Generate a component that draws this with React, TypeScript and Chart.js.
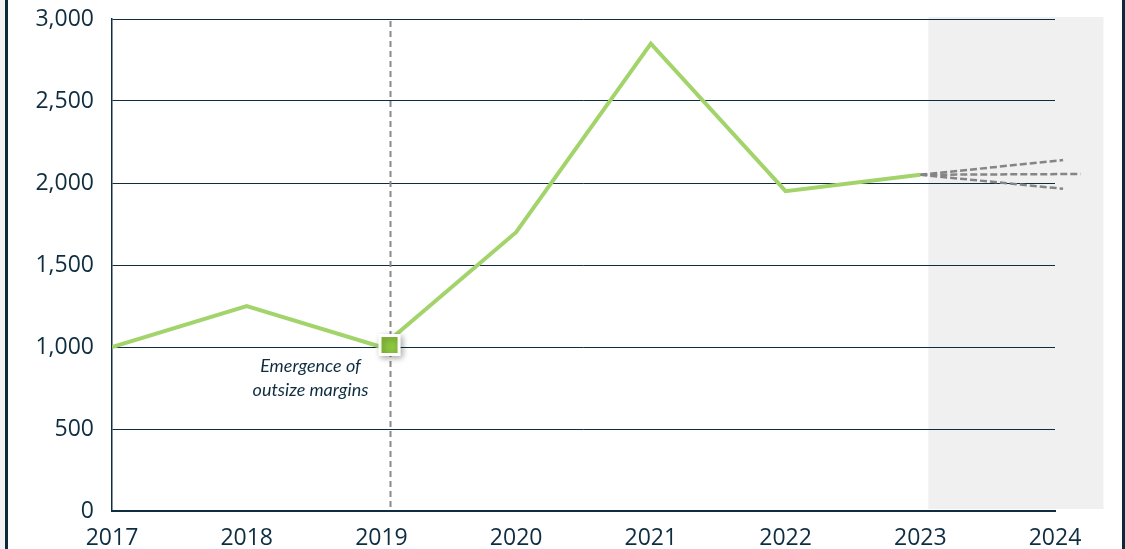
import React, { useEffect, useRef } from "react";
import { Chart, registerables } from "chart.js";

Chart.register(...registerables);

const years = [2017, 2018, 2019, 2020, 2021, 2022, 2023];
const values = [1000, 1250, 1000, 1700, 2850, 1950, 2050];
const projectionUpper = [{ x: 2023, y: 2050 }, { x: 2024.06, y: 2140 }];
const projectionMid = [{ x: 2023, y: 2050 }, { x: 2024.19, y: 2055 }];
const projectionLower = [{ x: 2023, y: 2050 }, { x: 2024.06, y: 1965 }];
const markerPoint = [{ x: 2019.06, y: 1012 }];
const forecastBand = [2023.06, 2024.36];
const annotationLines = ["Emergence of", "outsize margins"];
const yTickMin = 0;
const yTickMax = 3000;
const yTickStep = 500;
const xTickMin = 2017;
const xTickMax = 2024;

const NAVY = "#0f2d40";
const GREEN = "#a3d46b";
const FONT = "'Open Sans', 'Noto Sans', sans-serif";

export default function App() {
  const ref = useRef<HTMLCanvasElement | null>(null);

  useEffect(() => {
    if (!ref.current) return;
    const markerIdx = 0;
    const plugin = {
      id: "decor",
      beforeDraw(chart: any) {
        const { ctx, chartArea, scales } = chart;
        const x0 = scales.x.getPixelForValue(forecastBand[0]);
        const x1 = scales.x.getPixelForValue(forecastBand[1]);
        ctx.save();
        ctx.fillStyle = "#f0f0f0";
        ctx.fillRect(x0, chartArea.top - 2, x1 - x0, chartArea.bottom - chartArea.top);
        ctx.restore();
      },
      beforeDatasetsDraw(chart: any) {
        const { ctx, chartArea, scales } = chart;
        const mx = Math.round(scales.x.getPixelForValue(markerPoint[0].x)) + 0.5;
        ctx.save();
        ctx.strokeStyle = "#8a8a8a";
        ctx.lineWidth = 2;
        ctx.setLineDash([6, 4]);
        ctx.beginPath();
        ctx.moveTo(mx, chartArea.top + 2);
        ctx.lineTo(mx, chartArea.bottom);
        ctx.stroke();
        ctx.restore();
      },
      beforeDatasetDraw(chart: any, args: any) {
        if (args.index === markerIdx) {
          const ctx = chart.ctx;
          ctx.save();
          ctx.shadowColor = "rgba(0,0,0,0.3)";
          ctx.shadowBlur = 6;
          ctx.shadowOffsetX = 2;
          ctx.shadowOffsetY = 2;
        }
      },
      afterDatasetDraw(chart: any, args: any) {
        if (args.index === markerIdx) chart.ctx.restore();
      },
      afterDatasetsDraw(chart: any) {
        const { ctx, scales } = chart;
        const mx = scales.x.getPixelForValue(markerPoint[0].x);
        const my = scales.y.getPixelForValue(markerPoint[0].y);
        ctx.save();
        ctx.fillStyle = NAVY;
        ctx.font = `italic 18px Lato, ${FONT}`;
        ctx.textAlign = "center";
        ctx.textBaseline = "middle";
        annotationLines.forEach((t, i) => {
          ctx.fillText(t, mx - 79, my + 21 + i * 24);
        });
        ctx.restore();
      },
    };

    const chart = new Chart(ref.current, {
      type: "line",
      data: {
        datasets: [
          {
            data: markerPoint,
            showLine: false,
            pointStyle: "rect",
            pointRadius: 13.5,
            backgroundColor: "#8cc63f",
            borderColor: "#ffffff",
            borderWidth: 3,
            order: 0,
          } as any,
          {
            data: years.map((y, i) => ({ x: y, y: values[i] })),
            borderColor: GREEN,
            borderWidth: 4,
            pointRadius: 0,
            tension: 0,
            order: 1,
          },
          {
            data: projectionUpper,
            borderColor: "#858585",
            borderWidth: 2.5,
            borderDash: [7, 3],
            pointRadius: 0,
            clip: false,
            order: 2,
          } as any,
          {
            data: projectionMid,
            borderColor: "#858585",
            borderWidth: 2.5,
            borderDash: [7, 3],
            pointRadius: 0,
            clip: false,
            order: 2,
          } as any,
          {
            data: projectionLower,
            borderColor: "#858585",
            borderWidth: 2.5,
            borderDash: [7, 3],
            pointRadius: 0,
            clip: false,
            order: 2,
          } as any,
        ],
      },
      options: {
        animation: false,
        responsive: false,
        maintainAspectRatio: false,
        layout: { padding: { top: 19, right: 70, left: 0, bottom: 0 } },
        plugins: { legend: { display: false }, tooltip: { enabled: false } },
        scales: {
          x: {
            type: "linear",
            min: xTickMin,
            max: xTickMax,
            grid: { display: false, drawTicks: false },
            border: { display: true, color: NAVY, width: 2 },
            ticks: {
              stepSize: 1,
              padding: 14,
              color: NAVY,
              font: { family: FONT, size: 23 },
              callback: (v: any) => String(v),
              maxRotation: 0,
            },
            afterFit: (s: any) => {
              s.height = 38;
              s.paddingLeft = 0;
              s.paddingRight = 0;
            },
          },
          y: {
            min: yTickMin,
            max: yTickMax,
            grid: { color: NAVY, lineWidth: 1, drawTicks: false },
            border: { display: true, color: NAVY, width: 1.5 },
            ticks: {
              stepSize: yTickStep,
              padding: 18,
              color: NAVY,
              font: { family: FONT, size: 23 },
              callback: (v: any) => Number(v).toLocaleString("en-US"),
            },
            afterFit: (s: any) => {
              s.width = 112;
              s.paddingTop = 0;
              s.paddingBottom = 0;
            },
          },
        },
      },
      plugins: [plugin],
    });
    return () => chart.destroy();
  }, []);

  return (
    <div style={{ position: "absolute", left: 0, top: 0, width: 1125, height: 549, background: "#ffffff", overflow: "hidden" }}>
      <canvas ref={ref} width={1125} height={549} style={{ position: "absolute", left: 0, top: 0 }} />
      <div style={{ position: "absolute", left: 0, top: 0, width: 5, height: 549, background: "#f3f3f3" }} />
      <div style={{ position: "absolute", left: 5, top: 0, width: 3, height: 549, background: "#0b2a3c" }} />
      <div style={{ position: "absolute", left: 1122, top: 0, width: 3, height: 549, background: "#0b2a3c" }} />
    </div>
  );
}
